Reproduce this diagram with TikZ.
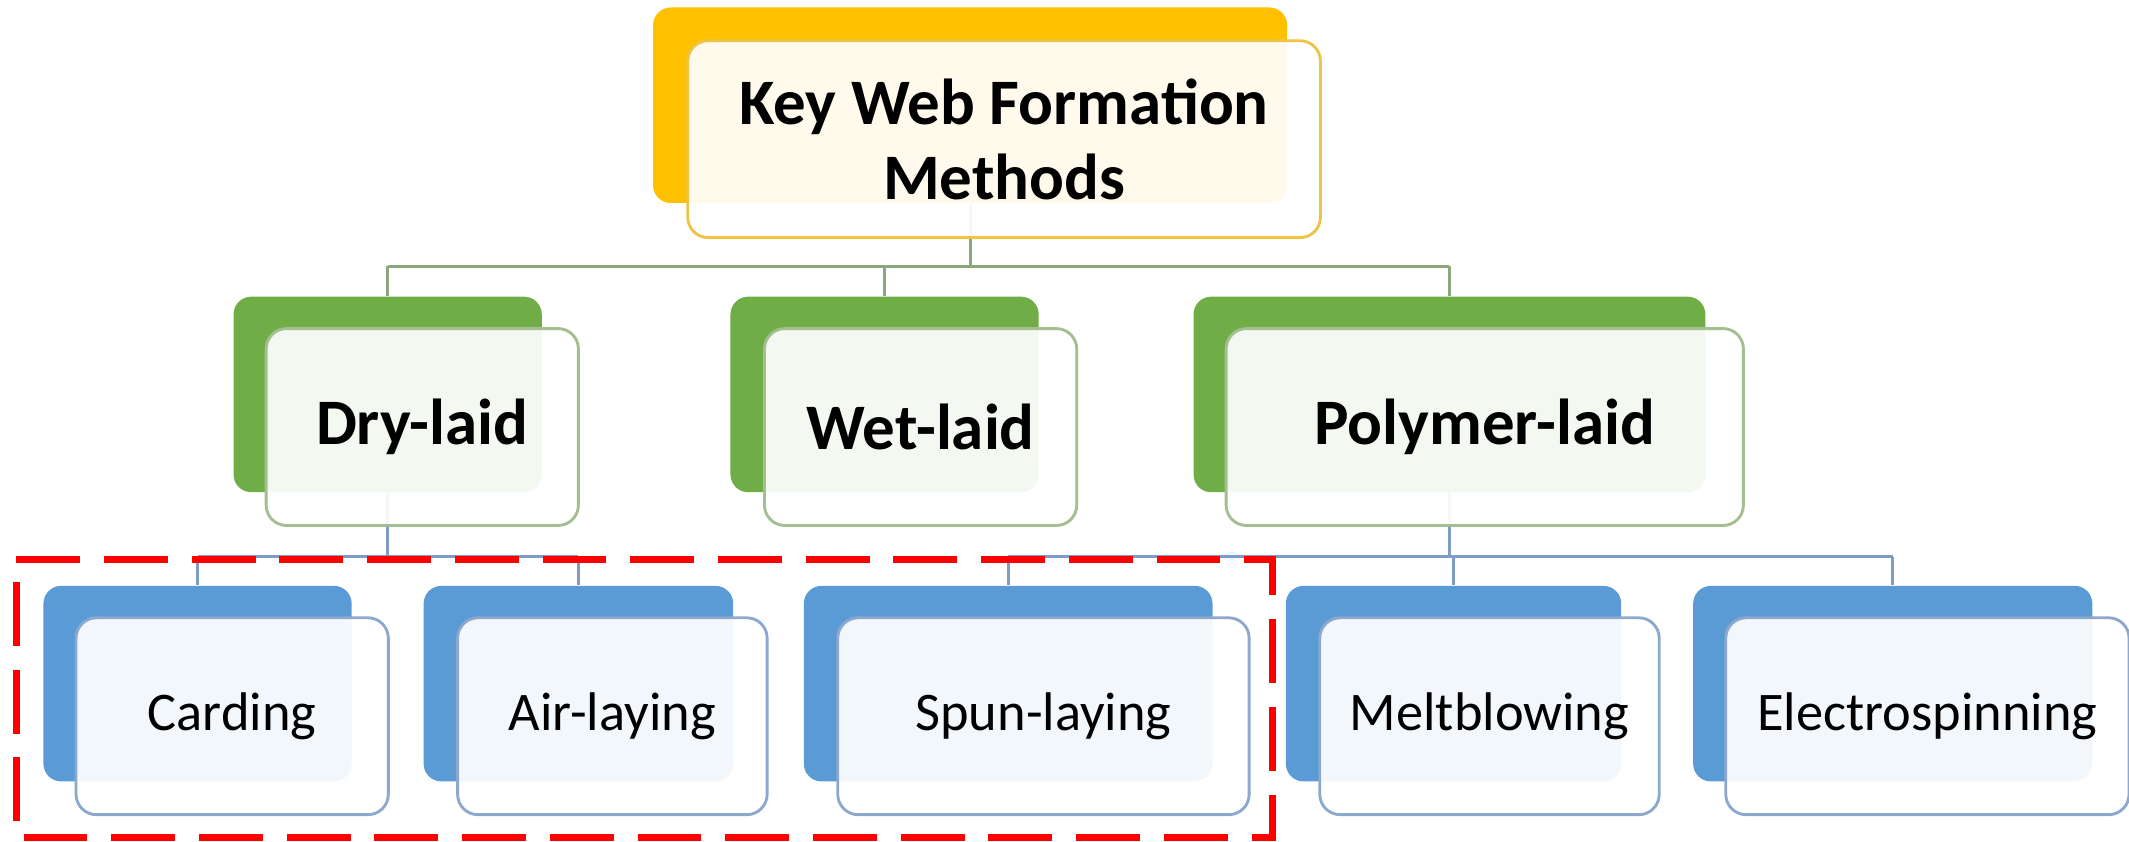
\documentclass[tikz,border=0pt]{standalone}
\usepackage{fontspec}
\setmainfont{Carlito}
\usetikzlibrary{backgrounds}

\definecolor{goldBack}{HTML}{FFC000}
\definecolor{goldLine}{HTML}{EDC445}
\definecolor{greenBack}{HTML}{70AD47}
\definecolor{greenLine}{HTML}{A3BE8F}
\definecolor{blueBack}{HTML}{5B9BD5}
\definecolor{blueLine}{HTML}{8DA8CE}
\definecolor{linkGreen}{HTML}{8BA67A}
\definecolor{linkBlue}{HTML}{7E9CC6}

\begin{document}
\begin{tikzpicture}[
        back/.style={rectangle, rounded corners=0.13cm, inner sep=0pt, minimum height=1.44cm},
        front/.style={rectangle, rounded corners=0.15cm, inner sep=0pt, minimum height=1.45cm,
            fill=white, fill opacity=0.92, text opacity=1, line width=0.6pt},
        headtxt/.style={font=\bfseries\fontsize{13.6}{15.8}\selectfont, align=center},
        subtxt/.style={font=\fontsize{11.4}{13}\selectfont},
        linkG/.style={draw=linkGreen, line width=0.6pt},
        linkB/.style={draw=linkBlue, line width=0.6pt},
        reddash/.style={draw=red, line width=0.055cm, dash pattern=on 0.47cm off 0.176cm}
    ]

        \useasboundingbox (0,0) rectangle (15.68,6.20);

        % Back boxes
        \node (top) [back, fill=goldBack, minimum width=4.67cm] at (7.145, 5.425) {};
        \node (dry) [back, fill=greenBack, minimum width=2.27cm] at (2.855, 3.295) {};
        \node (wet) [back, fill=greenBack, minimum width=2.27cm] at (6.515, 3.295) {};
        \node (poly) [back, fill=greenBack, minimum width=3.77cm] at (10.675, 3.295) {};
        \node (card) [back, fill=blueBack, minimum width=2.27cm] at (1.455, 1.165) {};
        \node (air) [back, fill=blueBack, minimum width=2.28cm] at (4.26, 1.165) {};
        \node (spun) [back, fill=blueBack, minimum width=3.01cm] at (7.425, 1.165) {};
        \node (melt) [back, fill=blueBack, minimum width=2.47cm] at (10.705, 1.165) {};
        \node (elec) [back, fill=blueBack, minimum width=2.94cm] at (13.94, 1.165) {};

        % Front boxes
        \node (topF) [front, draw=goldLine, minimum width=4.66cm, headtxt] at (7.395, 5.175) {Key Web Formation\\Methods};
        \node (dryF) [front, draw=greenLine, minimum width=2.30cm, headtxt] at (3.11, 3.055) {Dry-laid};
        \node (wetF) [front, draw=greenLine, minimum width=2.30cm, headtxt] at (6.78, 3.055) {Wet-laid};
        \node (polyF) [front, draw=greenLine, minimum width=3.81cm, headtxt] at (10.935, 3.055) {Polymer-laid};
        \node (cardF) [front, draw=blueLine, minimum width=2.30cm, subtxt] at (1.71, 0.925) {Carding};
        \node (airF) [front, draw=blueLine, minimum width=2.28cm, subtxt] at (4.51, 0.925) {Air-laying};
        \node (spunF) [front, draw=blueLine, minimum width=3.03cm, subtxt] at (7.685, 0.925) {Spun-laying};
        \node (meltF) [front, draw=blueLine, minimum width=2.50cm, subtxt] at (10.97, 0.925) {Meltblowing};
        \node (elecF) [front, draw=blueLine, minimum width=2.97cm, subtxt] at (14.195, 0.925) {Electrospinning};

        % Bus levels
        \coordinate (busA) at (0, 4.24);
        \coordinate (busB) at (0, 2.10);

        % Edges
        \begin{pgfonlayer}{background}
            \draw[linkG] (top) -- (busA -| top);
            \draw[linkG] (busA -| dry) -- (busA -| poly);
            \foreach \n in {dry, wet, poly}
                \draw[linkG] (busA -| \n) -- (\n.north);

            \draw[linkB] (dry) -- (busB -| dry);
            \draw[linkB] (busB -| card) -- (busB -| air);
            \foreach \n in {card, air}
                \draw[linkB] (busB -| \n) -- (\n.north);

            \draw[linkB] (poly) -- (busB -| poly);
            \draw[linkB] (busB -| spun) -- (busB -| elec);
            \foreach \n in {spun, melt, elec}
                \draw[linkB] (busB -| \n) -- (\n.north);
        \end{pgfonlayer}

        % Highlight frame
        \draw[reddash] (0.12, 2.08) -- (9.37, 2.08) -- (9.37, 0.03) -- (0.12, 0.03) -- cycle;

    \end{tikzpicture}
\end{document}
